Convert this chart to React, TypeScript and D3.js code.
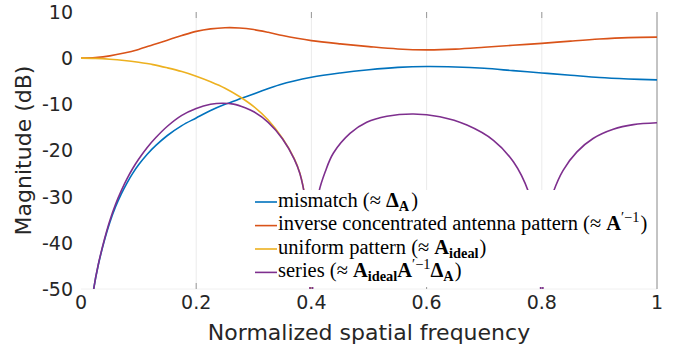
import React from "react";
import * as d3 from "d3";

// ---- data ----
const xTicks = [0, 0.2, 0.4, 0.6, 0.8, 1];
const xTickLabels = ["0", "0.2", "0.4", "0.6", "0.8", "1"];
const yTicks = [10, 0, -10, -20, -30, -40, -50];
const yTickLabels = ["10", "0", "-10", "-20", "-30", "-40", "-50"];

const mismatchX = [0.01, 0.015, 0.022, 0.03, 0.04, 0.05, 0.06, 0.07, 0.08, 0.09, 0.1, 0.115, 0.13, 0.15, 0.175, 0.2, 0.225, 0.25, 0.28, 0.31, 0.345, 0.4, 0.45, 0.5, 0.55, 0.6, 0.65, 0.7, 0.75, 0.8, 0.85, 0.9, 0.95, 1.0];
const mismatchY = [-66, -57, -50, -44.8, -39.8, -35.6, -32.2, -29.4, -27.0, -24.9, -23.1, -20.8, -18.9, -16.75, -14.6, -12.95, -11.35, -10.0, -8.65, -7.3, -5.75, -4.15, -3.2, -2.5, -2.0, -1.8, -1.9, -2.2, -2.7, -3.2, -3.7, -4.2, -4.5, -4.7];

const inverseX = [0, 0.025, 0.05, 0.075, 0.1, 0.125, 0.15, 0.175, 0.2, 0.225, 0.25, 0.275, 0.3, 0.325, 0.35, 0.375, 0.4, 0.45, 0.5, 0.55, 0.6, 0.65, 0.7, 0.75, 0.8, 0.85, 0.9, 0.95, 1.0];
const inverseY = [0, 0.15, 0.5, 1.1, 1.9, 2.9, 3.9, 4.9, 5.8, 6.35, 6.6, 6.55, 6.2, 5.6, 4.9, 4.3, 3.8, 3.1, 2.5, 2.0, 1.8, 1.95, 2.35, 2.8, 3.2, 3.7, 4.15, 4.45, 4.55];

const uniformX = [0, 0.025, 0.05, 0.075, 0.1, 0.125, 0.15, 0.175, 0.2, 0.225, 0.25, 0.275, 0.3, 0.325, 0.35, 0.37, 0.38, 0.39, 0.395, 0.4];
const uniformY = [0, -0.05, -0.22, -0.5, -0.9, -1.4, -2.1, -2.9, -3.9, -5.1, -6.5, -8.3, -10.5, -13.4, -17.4, -21.7, -24.9, -30.9, -37, -65];

const seriesX = [0.015, 0.022, 0.03, 0.04, 0.05, 0.06, 0.07, 0.08, 0.09, 0.1, 0.115, 0.13, 0.15, 0.175, 0.2, 0.225, 0.245, 0.265, 0.285, 0.3, 0.325, 0.35, 0.37, 0.38, 0.39, 0.395, 0.4, 0.405, 0.413, 0.424, 0.438, 0.467, 0.496, 0.531, 0.577, 0.623, 0.67, 0.716, 0.751, 0.777, 0.79, 0.796, 0.8, 0.804, 0.81, 0.82, 0.837, 0.861, 0.889, 0.924, 0.959, 1.0];
const seriesY = [-57, -50, -44.7, -39.55, -35.2, -31.65, -28.7, -26.1, -23.85, -21.9, -19.35, -17.2, -14.75, -12.4, -10.9, -10.0, -9.75, -9.95, -10.75, -11.6, -13.9, -17.5, -21.8, -25.0, -31.0, -37.0, -65, -37, -29.0, -24.6, -20.6, -16.3, -13.9, -12.6, -12.1, -12.7, -14.5, -17.8, -22.5, -29.0, -36, -42, -65, -40, -33.5, -29.0, -24.3, -20.3, -17.4, -15.4, -14.4, -14.0];

type Seg = { t: string; bold?: boolean; sub?: boolean; sup?: boolean; dx?: number };
const legendNames: Seg[][] = [
  [{ t: "mismatch (≈" }, { t: "Δ", bold: true, dx: 5 }, { t: "A", bold: true, sub: true }, { t: ")", dx: 2 }],
  [{ t: "inverse concentrated antenna pattern (≈" }, { t: "A", bold: true, dx: 5 }, { t: "′−1", sup: true }, { t: ")", dx: 1 }],
  [{ t: "uniform pattern (≈" }, { t: "A", bold: true, dx: 5 }, { t: "ideal", bold: true, sub: true }, { t: ")", dx: 1 }],
  [{ t: "series (≈" }, { t: "A", bold: true, dx: 5 }, { t: "ideal", bold: true, sub: true }, { t: "A", bold: true }, { t: "′−1", sup: true }, { t: "Δ", bold: true }, { t: "A", bold: true, sub: true }, { t: ")", dx: 1 }],
];
const colors = ["#0072BD", "#D95319", "#EDB120", "#7E2F8E"];

export default function App() {
  const W = 685, H = 352;
  const x = d3.scaleLinear().domain([0, 1]).range([81, 657]);
  const y = d3.scaleLinear().domain([-50, 10]).range([289, 12]);
  const line = d3
    .line<[number, number]>()
    .x((d) => x(d[0]))
    .y((d) => y(d[1]))
    .curve(d3.curveCatmullRom.alpha(0.5));
  const series: [number[], number[]][] = [
    [mismatchX, mismatchY],
    [inverseX, inverseY],
    [uniformX, uniformY],
    [seriesX, seriesY],
  ];
  const sans = "'DejaVu Sans', sans-serif";
  const serif = "'Liberation Serif', serif";
  const legFs = 20.5;
  const rowY = [202, 225.6, 249, 272.4];

  const renderSegs = (segs: Seg[]) => {
    let shift = 0;
    return segs.map((s, i) => {
      const target = s.sub ? 4 : s.sup ? -8 : 0;
      const dy = target - shift;
      shift = target;
      return (
        <tspan key={i} dx={s.dx || 0} dy={dy} fontWeight={s.bold ? "bold" : "normal"} fontSize={s.sub || s.sup ? legFs * 0.7 : legFs}>
          {s.t}
        </tspan>
      );
    });
  };

  return (
    <svg width={W} height={H} style={{ position: "absolute", left: 0, top: 0, background: "#fff" }}>
      <defs>
        <clipPath id="plotclip">
          <rect x={x(0)} y={y(10)} width={x(1) - x(0)} height={y(-50) - y(10)} />
        </clipPath>
      </defs>
      {xTicks.slice(1, -1).map((t) => (
        <line key={"g" + t} x1={x(t)} x2={x(t)} y1={y(10)} y2={y(-50)} stroke="#ebebeb" strokeWidth={1} />
      ))}
      <line x1={x(0)} x2={x(1)} y1={y(-50)} y2={y(-50)} stroke="#f0f0f0" strokeWidth={1} />
      {xTicks.slice(1, -1).map((t) => (
        <g key={"t" + t}>
          <line x1={x(t)} x2={x(t)} y1={y(10)} y2={y(10) + 6} stroke="#999" strokeWidth={1} />
          <line x1={x(t)} x2={x(t)} y1={y(-50)} y2={y(-50) - 6} stroke="#999" strokeWidth={1} />
        </g>
      ))}
      <line x1={x(1)} x2={x(1)} y1={y(10)} y2={y(-50)} stroke="#888" strokeWidth={1} />
      <g clipPath="url(#plotclip)">
        {series.map(([xs, ys], i) => (
          <path
            key={i}
            d={line(xs.map((v, j) => [v, ys[j]] as [number, number])) || ""}
            fill="none"
            stroke={colors[i]}
            strokeWidth={1.6}
          />
        ))}
      </g>
      {yTicks.map((t, i) => (
        <text key={"yl" + t} x={73} y={y(t)} dy="0.36em" textAnchor="end" fontFamily={sans} fontSize={19} fill="#262626">
          {yTickLabels[i]}
        </text>
      ))}
      {xTicks.map((t, i) => (
        <text key={"xl" + t} x={x(t)} y={309} textAnchor="middle" fontFamily={sans} fontSize={19} fill="#262626">
          {xTickLabels[i]}
        </text>
      ))}
      <text x={(x(0) + x(1)) / 2} y={340} textAnchor="middle" fontFamily={sans} fontSize={22} fill="#262626">
        Normalized spatial frequency
      </text>
      <text transform={`translate(31,${(y(10) + y(-50)) / 2}) rotate(-90)`} textAnchor="middle" fontFamily={sans} fontSize={22} fill="#262626">
        Magnitude (dB)
      </text>
      <rect x={251} y={190} width={405} height={97} fill="#fff" />
      {legendNames.map((segs, i) => (
        <g key={"lg" + i}>
          <line x1={255} x2={277} y1={rowY[i]} y2={rowY[i]} stroke={colors[i]} strokeWidth={1.6} />
          <text x={278} y={rowY[i] + 4.5} fontFamily={serif} fontSize={legFs} fill="#000">
            {renderSegs(segs)}
          </text>
        </g>
      ))}
    </svg>
  );
}
